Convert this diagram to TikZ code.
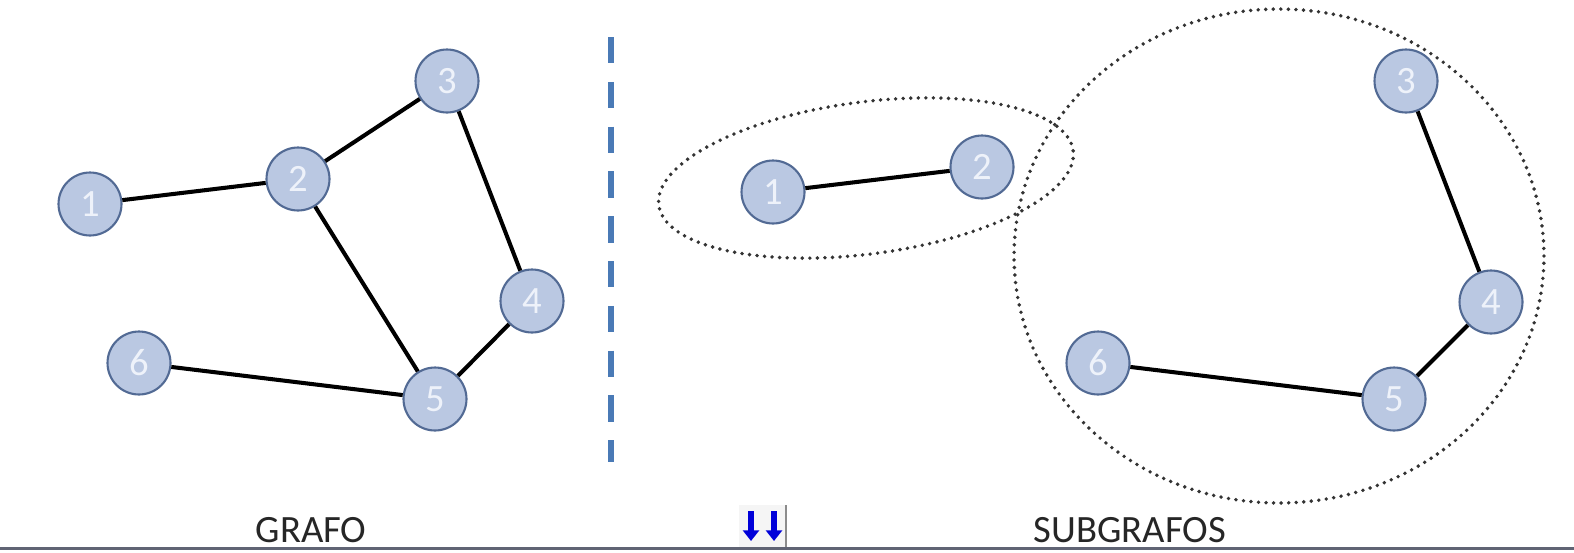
\documentclass[tikz,border=0pt]{standalone}
\usepackage{fontspec}
\setmainfont{Carlito}
\usepackage{tikz}
\usetikzlibrary{arrows.meta}

\definecolor{vfill}{RGB}{186,200,226}
\definecolor{vline}{RGB}{82,106,148}
\definecolor{vtext}{RGB}{238,242,250}
\definecolor{sepblue}{RGB}{74,122,182}
\definecolor{barcol}{RGB}{96,100,116}

\begin{document}
\begin{tikzpicture}[x=0.02cm, y=-0.02cm,
  every node/.style={font=\fontsize{22}{22}\selectfont},
  vertex/.style={draw=vline, line width=1.2pt, circle, fill=vfill, text=vtext, minimum size=1.26cm, inner sep=0pt},
  edge/.style={line width=2.3pt, black},
  label/.style={anchor=base, inner sep=0pt, text depth=0pt, font=\fontsize{22}{22}\selectfont, text=black!85},
  dotline/.style={line width=2.2pt, dash pattern=on 0pt off 4.3pt, line cap=round, black!80}]
\useasboundingbox (0,0) rectangle (1574,552);
% grafo
\node[vertex] (a1) at (90,204) {1};
\node[vertex] (a2) at (298,179) {2};
\node[vertex] (a3) at (447,81) {3};
\node[vertex] (a4) at (532,301) {4};
\node[vertex] (a5) at (435,399) {5};
\node[vertex] (a6) at (139,363) {6};
\draw[edge] (a1)--(a2); \draw[edge] (a2)--(a3); \draw[edge] (a3)--(a4); \draw[edge] (a2)--(a5); \draw[edge] (a4)--(a5); \draw[edge] (a6)--(a5);
% separador
\draw[sepblue, line width=3.2pt, dash pattern=on 15pt off 10.5pt] (611,37) -- (611,462);
% subgrafos
\node[vertex] (b1) at (773,192) {1};
\node[vertex] (b2) at (982,167) {2};
\node[vertex] (b3) at (1406,81) {3};
\node[vertex] (b4) at (1491,302) {4};
\node[vertex] (b5) at (1394,399) {5};
\node[vertex] (b6) at (1098,363) {6};
\draw[edge] (b1)--(b2); \draw[edge] (b3)--(b4); \draw[edge] (b4)--(b5); \draw[edge] (b6)--(b5);
\draw[dotline] (866,178) ellipse [x radius=4.18cm, y radius=1.52cm, rotate=7.5];
\draw[dotline] (1279,256) ellipse [x radius=5.3cm, y radius=4.94cm];
% rotulos
\node[label] (tg) at (311,542) {GRAFO};
\node[label] (ts) at (1130,542) {SUBGRAFOS};
% icono
\fill[black!4] (739,505) rectangle (786,547);
\draw[black!45, line width=1pt] (786,505) -- (786,547);
\draw[blue!85!black, line width=3pt, -{Triangle[length=6pt,width=9pt]}] (751,511) -- (751,541);
\draw[blue!85!black, line width=3pt, -{Triangle[length=6pt,width=9pt]}] (774,511) -- (774,541);
\draw[barcol, line width=1.8pt] (0,548.5) -- (1574,548.5);
\end{tikzpicture}
\end{document}
